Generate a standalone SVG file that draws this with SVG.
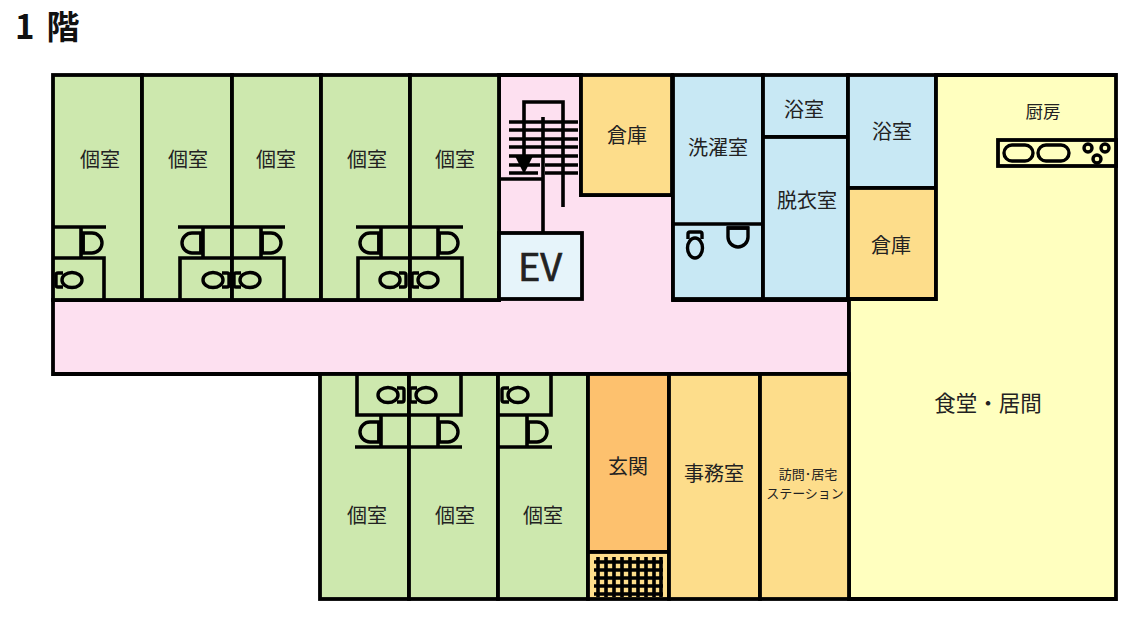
<svg xmlns="http://www.w3.org/2000/svg" xmlns:xlink="http://www.w3.org/1999/xlink" width="1126" height="618" viewBox="0 0 1126 618">
<style>
text{font-family:"Noto Sans CJK JP","Noto Sans",sans-serif;font-size:20px;fill:#222;text-anchor:middle;dominant-baseline:central}
.w{stroke:#000;stroke-width:3.8;stroke-linecap:square}
.g{fill:#cde8ae}.p{fill:#fde0f0}.b{fill:#c8e8f4}.o{fill:#fddd8b}.e{fill:#fdc16e}.y{fill:#ffffbf}.v{fill:#e6f4fa}
.l{fill:none;stroke:#000;stroke-width:3.6;stroke-linecap:butt}
.t{stroke:#000;stroke-width:3.4;fill:none}
.m{stroke:#000;stroke-width:3.6;fill:none}
</style>
<defs>
<g id="toilet"><path d="M-9-7H-14Q-16-7-16-5V5Q-16 7-14 7H-9" class="t"/><ellipse cx="0" cy="0" rx="10" ry="7.5" class="t"/></g>
<g id="sink"><path d="M0-10H9A10 10 0 0 1 9 10H0Z" class="t"/><path d="M0-11V11" class="l" stroke-width="4"/></g>
</defs>
<rect width="1126" height="618" fill="#fff"/>
<text id="title" x="15" y="25" font-weight="700" style="font-size:33px;fill:#111;text-anchor:start">1<tspan dx="12">階</tspan></text>

<g id="corridor"><path class="p w" d="M499 75H581V195H673V300H849V374H53V300H499Z"/></g>
<g id="room-1"><rect class="g w" x="53" y="75" width="89" height="225"/><text x="100" y="158">個室</text></g>
<g id="room-2"><rect class="g w" x="142" y="75" width="90" height="225"/><text x="188" y="158">個室</text></g>
<g id="room-3"><rect class="g w" x="232" y="75" width="89" height="225"/><text x="276" y="158">個室</text></g>
<g id="room-4"><rect class="g w" x="321" y="75" width="89" height="225"/><text x="367" y="158">個室</text></g>
<g id="room-5"><rect class="g w" x="410" y="75" width="89" height="225"/><text x="455" y="158">個室</text></g>
<g id="storage-1"><rect class="o w" x="581" y="75" width="91" height="120"/><text x="627" y="134">倉庫</text></g>
<g id="laundry"><rect class="b w" x="673" y="75" width="90" height="224"/><text x="718" y="146">洗濯室</text></g>
<g id="bath-1"><rect class="b w" x="763" y="75" width="85" height="62"/><text x="804" y="108">浴室</text></g>
<g id="dressing"><rect class="b w" x="763" y="137" width="85" height="162"/><text x="807" y="199">脱衣室</text></g>
<g id="bath-2"><rect class="b w" x="848" y="75" width="88" height="113"/><text x="892" y="130">浴室</text></g>
<g id="storage-2"><rect class="o w" x="848" y="188" width="88" height="111"/><text x="891" y="244">倉庫</text></g>
<g id="dining"><path class="y w" d="M936 75H1116V599H849V299H936Z"/><text x="988" y="401" style="font-size:21.5px">食堂・居間</text></g>
<g id="kitchen"><text x="1043" y="110" style="font-size:17.5px">厨房</text>
<rect x="998" y="140" width="118" height="26" fill="#ffffbf" stroke="#000" stroke-width="3.8"/>
<rect x="1004" y="145" width="29" height="16" rx="8" class="t"/><rect x="1038" y="145" width="31" height="16" rx="8" class="t"/>
<circle cx="1088" cy="148" r="4" class="t"/><circle cx="1105" cy="148" r="4" class="t"/><circle cx="1097" cy="159" r="4" class="t"/></g>
<g id="ev"><rect class="v w" x="499" y="233" width="83" height="66"/><text x="540" y="264" style="font-size:38px;stroke:#222;stroke-width:.7">EV</text></g>
<g id="room-6"><rect class="g w" x="320" y="374" width="89" height="225"/><text x="367" y="514">個室</text></g>
<g id="room-7"><rect class="g w" x="409" y="374" width="89" height="225"/><text x="455" y="514">個室</text></g>
<g id="room-8"><rect class="g w" x="498" y="374" width="90" height="225"/><text x="543" y="514">個室</text></g>
<g id="entrance"><rect class="e w" x="588" y="374" width="81" height="178"/><text x="628" y="465">玄関</text></g>
<g id="mat"><rect class="o w" x="588" y="552" width="81" height="47"/>
<path class="m" d="M594 562H663M594 570H663M594 578H663M594 586H663M594 594H663M598 557V597M606 557V597M614 557V597M622 557V597M630 557V597M638 557V597M646 557V597M654 557V597M661 557V597"/></g>
<g id="office"><rect class="o w" x="669" y="374" width="91" height="225"/><text x="714" y="472">事務室</text></g>
<g id="station"><rect class="o w" x="760" y="374" width="89" height="225"/><text x="808" y="473" style="font-size:13px">訪問･居宅</text><text x="805" y="492" style="font-size:13px">ステーション</text></g>

<g id="connectors">
<path class="l" d="M53 227H106M81 227V258M53 258H104V300"/>
<path class="l" d="M178 227H285M203 227V258M261 227V258M180 300V258H284V300"/>
<path class="l" d="M356 227H463M381 227V258M438 227V258M358 300V258H462V300"/>
<path class="l" d="M355 447H462M381 415V447M438 415V447M357 374V415H461V374"/>
<path class="l" d="M498 415H551V374M498 447H552M527 415V447"/>
<path class="l" d="M509 122H578M509 130H578M509 139H578M509 147H578M509 156H578M509 165H540M545 165H578M509 173H538M545 173H578"/>
<path class="l" d="M524 158V102H563V207M543 117V232M499 179H543"/>
<path d="M515 156H533L524 174Z" fill="#000"/>
<path class="l" d="M673 224H763"/>
</g>
<g id="fixtures">
<use xlink:href="#sink" href="#sink" x="83" y="243"/>
<use xlink:href="#sink" href="#sink" transform="translate(201 243) scale(-1 1)"/>
<use xlink:href="#sink" href="#sink" x="262" y="243"/>
<use xlink:href="#sink" href="#sink" transform="translate(379 243) scale(-1 1)"/>
<use xlink:href="#sink" href="#sink" x="439" y="243"/>
<use xlink:href="#sink" href="#sink" transform="translate(379 432) scale(-1 1)"/>
<use xlink:href="#sink" href="#sink" x="439" y="432"/>
<use xlink:href="#sink" href="#sink" x="528" y="432"/>
<use xlink:href="#sink" href="#sink" transform="translate(738 228) rotate(90)"/>
<use xlink:href="#toilet" href="#toilet" x="72" y="280"/>
<use xlink:href="#toilet" href="#toilet" transform="translate(213 280) scale(-1 1)"/>
<use xlink:href="#toilet" href="#toilet" x="250" y="280"/>
<use xlink:href="#toilet" href="#toilet" transform="translate(390 280) scale(-1 1)"/>
<use xlink:href="#toilet" href="#toilet" x="428" y="280"/>
<use xlink:href="#toilet" href="#toilet" transform="translate(388 395) scale(-1 1)"/>
<use xlink:href="#toilet" href="#toilet" x="426" y="395"/>
<use xlink:href="#toilet" href="#toilet" x="518" y="395"/>
<use xlink:href="#toilet" href="#toilet" transform="translate(695 248) rotate(90)"/>
</g>
</svg>
